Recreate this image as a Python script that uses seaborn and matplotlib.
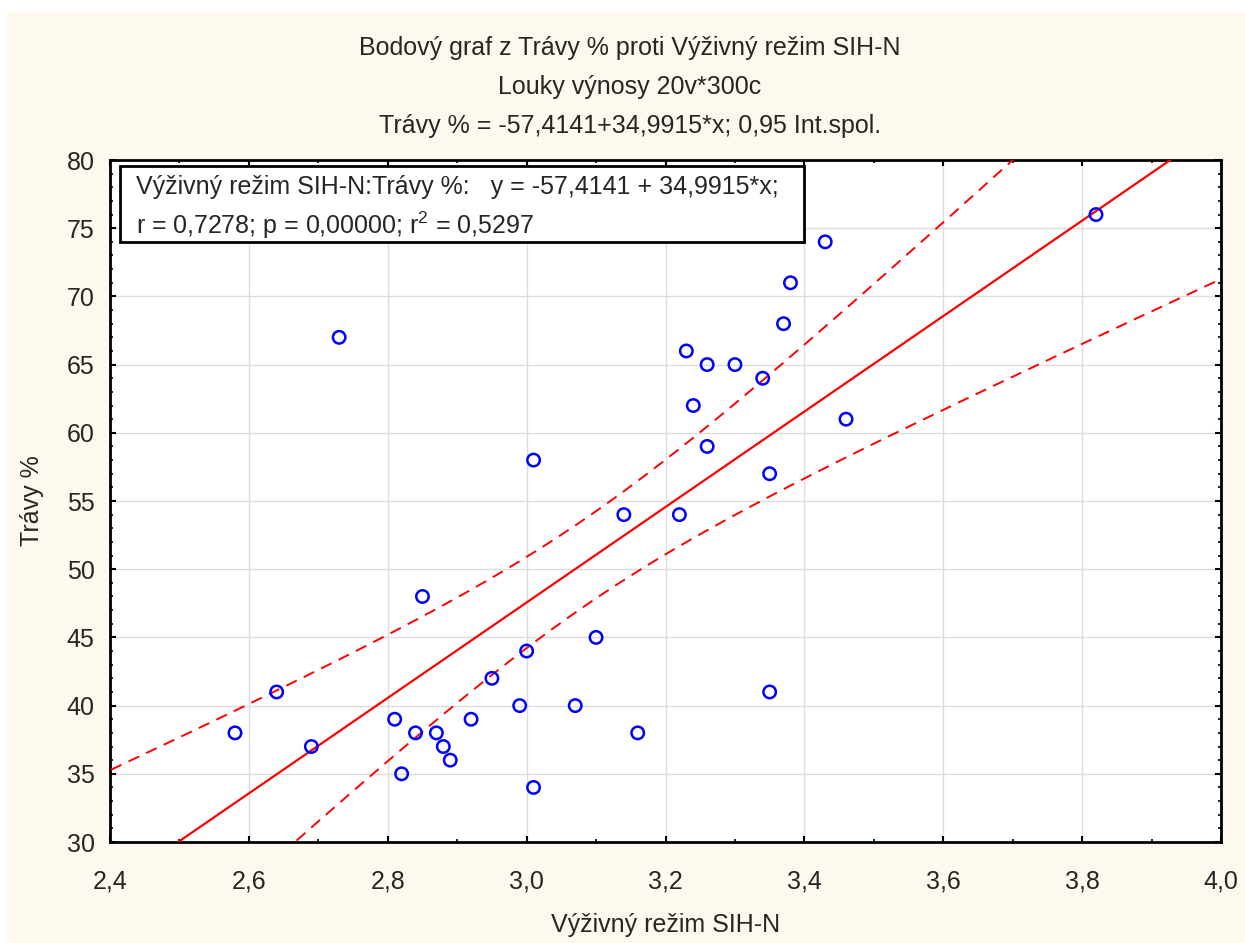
import numpy as np
import pandas as pd
import matplotlib
matplotlib.use("Agg")
import matplotlib.pyplot as plt
from matplotlib.patches import Rectangle
from matplotlib.ticker import MultipleLocator, FuncFormatter
import seaborn as sns

# ---- data ----
vyzivny_rezim = [2.58, 2.64, 2.69, 2.73, 2.81, 2.82, 2.84, 2.85, 2.87, 2.88,
                 2.89, 2.92, 2.95, 2.99, 3.00, 3.01, 3.01, 3.07, 3.10, 3.14,
                 3.16, 3.22, 3.23, 3.24, 3.26, 3.26, 3.30, 3.34, 3.35, 3.35,
                 3.37, 3.38, 3.43, 3.46, 3.82]
travy = [38, 41, 37, 67, 39, 35, 38, 48, 38, 37,
         36, 39, 42, 40, 44, 34, 58, 40, 45, 54,
         38, 54, 66, 62, 65, 59, 65, 64, 57, 41,
         68, 71, 74, 61, 76]
intercept = -57.4141
slope = 34.9915
x_ticks = [2.4, 2.6, 2.8, 3.0, 3.2, 3.4, 3.6, 3.8, 4.0]
y_ticks = [30, 35, 40, 45, 50, 55, 60, 65, 70, 75, 80]

title_lines = ["Bodový graf z Trávy % proti Výživný režim SIH-N",
               "Louky výnosy 20v*300c",
               "Trávy % = -57,4141+34,9915*x; 0,95 Int.spol."]
box_line1 = "Výživný režim SIH-N:Trávy %:   y = -57,4141 + 34,9915*x;"
box_line2 = "r = 0,7278; p = 0,00000; r$^2$ = 0,5297"

# ---- style ----
sns.set_style("white")
plt.rcParams["font.family"] = ["Liberation Sans", "DejaVu Sans"]
plt.rcParams["mathtext.fontset"] = "custom"
plt.rcParams["mathtext.rm"] = "Liberation Sans"
FS = 18

W, H = 1245, 943
fig = plt.figure(figsize=(W / 100, H / 100), dpi=100)
fig.patch.set_facecolor("white")
cream = "#FEF9EE"
fig.patches.append(Rectangle((7 / W, 0), 1 - 7 / W, 1 - 12 / H,
                             transform=fig.transFigure, facecolor=cream,
                             edgecolor="none", zorder=-10))

left, right, top, bottom = 110, 1221, 160, 842
ax = fig.add_axes([left / W, 1 - bottom / H, (right - left) / W, (bottom - top) / H])
ax.set_facecolor("white")

df = pd.DataFrame({"x": vyzivny_rezim, "y": travy})

# regression line and 95% confidence band for the mean
xs = np.linspace(2.3, 4.1, 300)
n = len(df)
resid = df["y"] - (intercept + slope * df["x"])
s = np.sqrt((resid ** 2).sum() / (n - 2))
xbar = df["x"].mean()
sxx = ((df["x"] - xbar) ** 2).sum()
t = 2.0345
yfit = intercept + slope * xs
hw = t * s * np.sqrt(1 / n + (xs - xbar) ** 2 / sxx)
lines = pd.DataFrame({"x": xs, "fit": yfit, "lo": yfit - hw, "hi": yfit + hw})

sns.lineplot(data=lines, x="x", y="fit", ax=ax, color="#FF0000", lw=1.6, zorder=3)
sns.lineplot(data=lines, x="x", y="lo", ax=ax, color="#FF0000", lw=1.4,
             dashes=False, linestyle=(0, (6, 4)), zorder=3)
sns.lineplot(data=lines, x="x", y="hi", ax=ax, color="#FF0000", lw=1.4,
             dashes=False, linestyle=(0, (6, 4)), zorder=3)
sns.scatterplot(data=df, x="x", y="y", ax=ax, marker="o", s=80,
                facecolors="none", edgecolor="#0000FF", linewidth=1.8, zorder=4)

ax.set_xlim(2.4, 4.0)
ax.set_ylim(30, 80)
ax.set_xticks(x_ticks)
ax.set_yticks(y_ticks)
ax.xaxis.set_minor_locator(MultipleLocator(0.1))
ax.yaxis.set_minor_locator(MultipleLocator(1))
ax.xaxis.set_major_formatter(FuncFormatter(lambda v, p: f"{v:.1f}".replace(".", ",")))
ax.yaxis.set_major_formatter(FuncFormatter(lambda v, p: f"{v:.0f}"))
ax.tick_params(which="both", direction="in", top=True, right=True, bottom=True, left=True,
               color="black", labelsize=FS)
ax.tick_params(which="major", length=4, width=1.5)
ax.tick_params(axis="x", which="major", pad=20)
ax.tick_params(axis="y", which="major", pad=11)
ax.tick_params(which="minor", length=2.5, width=1.2)
ax.grid(True, which="major", color="#DCDCDC", lw=1)
for sp in ax.spines.values():
    sp.set_color("black")
    sp.set_linewidth(2)
    sp.set_visible(True)

ax.set_xlabel("Výživný režim SIH-N", fontsize=FS, labelpad=14)
ax.set_ylabel("Trávy %", fontsize=FS, labelpad=16)

# title lines
for i, line in enumerate(title_lines):
    fig.text(630 / W, 1 - (48 + 39 * i) / H, line, ha="center", va="center", fontsize=FS)

# info box
bl, bt, br, bb = 120, 166, 804, 242
fig.patches.append(Rectangle((bl / W, 1 - bb / H), (br - bl) / W, (bb - bt) / H,
                             transform=fig.transFigure, facecolor="white",
                             edgecolor="black", lw=2, zorder=5))
fig.text(136 / W, 1 - 187 / H, box_line1, ha="left", va="center", fontsize=FS, zorder=6)
fig.text(136 / W, 1 - 225 / H, box_line2, ha="left", va="center", fontsize=FS, zorder=6)

fig.savefig("out.png", dpi=100)
